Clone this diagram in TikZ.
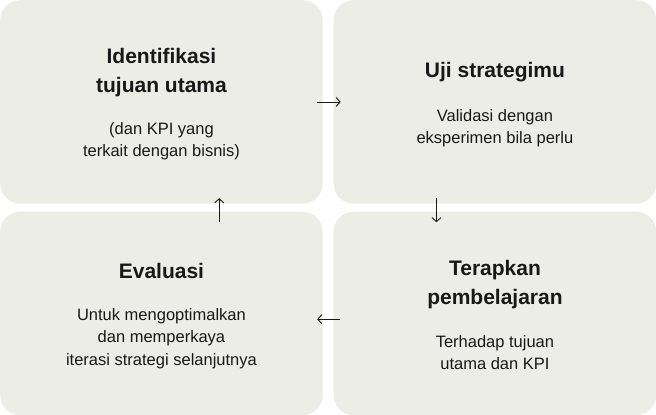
\documentclass[tikz,border=0pt]{standalone}
\usepackage{fontspec}
\setmainfont{Liberation Sans}
\usetikzlibrary{arrows.meta}
\usetikzlibrary{matrix}
\usetikzlibrary{positioning}

\definecolor{boxfill}{RGB}{237,237,231}
\definecolor{ink}{RGB}{24,24,24}

\tikzset{
  stepbox/.style={fill=boxfill,rounded corners=20pt,minimum width=322.5pt,minimum height=203.5pt,inner sep=0pt,outer sep=0pt},
  steptitle/.style={font=\fontsize{21}{29}\selectfont\bfseries,align=center,inner sep=0pt,text=ink},
  stepnote/.style={font=\fontsize{16.5}{22.5}\selectfont,align=center,inner sep=0pt,text=ink},
  flow/.style={draw=ink,line width=0.9pt,-{Straight Barb[length=4pt,width=9pt]}}
}

\begin{document}
\begin{tikzpicture}[x=1pt,y=-1pt]

  \useasboundingbox (0,0) rectangle (656,415);

  \matrix [matrix of nodes,anchor=north west,inner sep=0pt,column sep=11pt,row sep=8pt,nodes={stepbox},ampersand replacement=\&] at (0,0) {
    |(B_id)| \phantom{x}   \& |(B_uji)| \phantom{x} \\
    |(B_eval)| \phantom{x} \& |(B_ter)| \phantom{x} \\
  };

  \node [steptitle,below=47.8pt of B_id.north] (T_id) {Identifikasi\\tujuan utama};
  \node [stepnote,below=122pt of B_id.north] (N_id) {(dan KPI yang\\terkait dengan bisnis)};

  \node [steptitle,below=62pt of B_uji.north] (T_uji) {Uji strategimu};
  \node [stepnote,below=108.7pt of B_uji.north] (N_uji) {Validasi dengan\\eksperimen bila perlu};

  \node [steptitle,below=51pt of B_eval.north] (T_eval) {Evaluasi};
  \node [stepnote,below=96.2pt of B_eval.north] (N_eval) {Untuk mengoptimalkan\\dan memperkaya\\iterasi strategi selanjutnya};

  \node [steptitle,below=48pt of B_ter.north] (T_ter) {Terapkan\\pembelajaran};
  \node [stepnote,below=123.2pt of B_ter.north] (N_ter) {Terhadap tujuan\\utama dan KPI};

  \path [every edge/.append style={flow}]
    (B_id.east)                    edge [shorten <=-6pt,shorten >=-7pt]     (B_uji.west)
    ([xshift=-58.5pt]B_uji.south)  edge [shorten <=-5.5pt,shorten >=-10.5pt] ([xshift=-58.5pt]B_ter.north)
    ([yshift=-5.75pt]B_ter.west)   edge [shorten <=-6.5pt,shorten >=-5.5pt]  ([yshift=-5.75pt]B_eval.east)
    ([xshift=57.75pt]B_eval.north) edge [shorten <=-10.5pt,shorten >=-5.5pt] ([xshift=57.75pt]B_id.south);

\end{tikzpicture}
\end{document}
